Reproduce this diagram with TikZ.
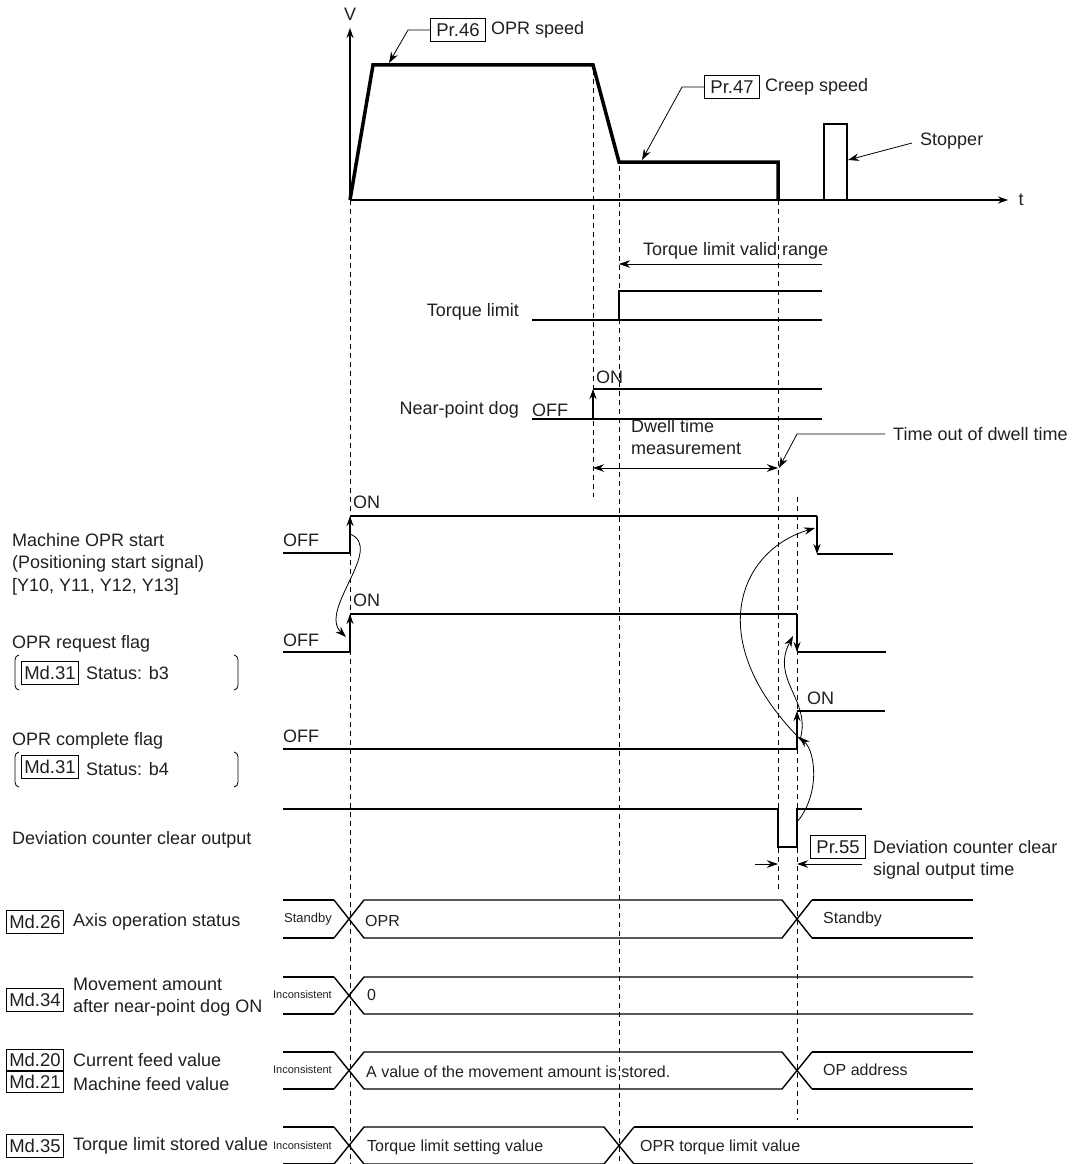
\documentclass[tikz,border=0pt]{standalone}
\usepackage{fontspec}
\setmainfont{Liberation Sans}
\usetikzlibrary{arrows.meta}
\definecolor{ink}{HTML}{231F20}

\begin{document}
\begin{tikzpicture}[x=1pt, y=-1pt,
    lbl/.style={font=\fontsize{18}{22.5}\selectfont, text=ink, inner sep=0pt, align=left},
    prevlbl/.style={font=\fontsize{13}{15}\selectfont, text=ink, inner sep=0pt},
    incons/.style={font=\fontsize{11}{13}\selectfont, text=ink, inner sep=0pt},
    statelbl/.style={font=\fontsize{16}{19}\selectfont, text=ink, inner sep=0pt},
    parbox/.style={draw, line width=1pt, font=\fontsize{18.5}{20}\selectfont, text=ink, inner xsep=2.5pt, inner ysep=1pt, minimum height=23pt, minimum width=55pt},
    guide/.style={dashed, dash pattern=on 5pt off 4pt, line width=0.9pt},
    profile/.style={line width=3.5pt},
    sig/.style={line width=2.2pt},
    lowsig/.style={line width=1.4pt},
    tip/.style={-{Stealth[length=10pt,width=7pt]}},
    leader/.style={line width=0.8pt, -{Stealth[length=11pt,width=7.5pt]}},
]
\useasboundingbox (0,0) rectangle (1077,1164);

% Speed axes
\draw[line width=1.2pt, tip] (350,200) -- (350,28);
\draw[line width=1.2pt, tip] (350,200) -- (1008,200);
\node[lbl] (vlbl) at (350,14) {V};
\node[lbl] (tlbl) at (1021,200) {t};

% Speed profile
\draw[profile] (350,200) -- (373,65) -- (593,65) -- (619,162) -- (778,162) -- (778,200);

% Stopper
\draw[line width=1.3pt] (824,200) -- (824,124) -- (847,124) -- (847,200);
\node[lbl, anchor=west] (stopper) at (920,141) {Stopper};
\coordinate (stoptip) at (848,160);
\draw[leader] ([xshift=-8pt,yshift=-2pt]stopper.west) -- (stoptip);

% Speed parameters
\node[parbox] (pr46) at (458,30) {Pr.46};
\node[lbl, anchor=west] (oprspd) at ([xshift=5pt]pr46.east) {OPR speed};
\coordinate (pr46tip) at (389,63);
\draw[leader] (pr46.west) -- ++(-22,0) -- (pr46tip);
\node[parbox] (pr47) at (732,87) {Pr.47};
\node[lbl, anchor=west] (creep) at ([xshift=5pt]pr47.east) {Creep speed};
\coordinate (pr47tip) at (642,160);
\draw[leader] (pr47.west) -- ++(-22,0) -- (pr47tip);

% Timing guides
\draw[guide] (350,200) -- (350,1164);
\draw[guide] (593,70) -- (593,497);
\draw[guide] (619,166) -- (619,1164);
\draw[guide] (778,200) -- (778,890);
\draw[guide] (797,497) -- (797,1120);

% Torque limit
\node[lbl, anchor=west] (tlrange) at (643,251) {Torque limit valid range};
\coordinate (tlstart) at (619,264);
\draw[leader] (822,264) -- (tlstart);
\node[lbl, anchor=east] (tllbl) at (519,312) {Torque limit};
\draw[lowsig] (532,320) -- (822,320);
\draw[lowsig] (619,320) -- (619,291) -- (822,291);

% Near-point dog
\node[lbl, anchor=east] (doglbl) at (519,410) {Near-point dog};
\node[lbl, anchor=west] (dogoff) at (532,410) {OFF};
\node[lbl, anchor=west] (dogon) at (596,377) {ON};
\draw[lowsig] (532,419) -- (822,419);
\draw[sig, tip] (593,419) -- (593,389);
\draw[sig] (593,389) -- (822,389);

% Dwell time
\node[lbl, anchor=west] (dwell) at (631,437) {Dwell time\\measurement};
\draw[line width=0.8pt, {Stealth[length=11pt,width=7.5pt]}-{Stealth[length=11pt,width=7.5pt]}] (593,468) -- (778,468);
\node[lbl, anchor=west] (timeout) at (893,434) {Time out of dwell time};
\coordinate (dwelltip) at (779,468);
\draw[leader] ([xshift=-8pt]timeout.west) -- (797,434) -- (dwelltip);

% Machine OPR start
\node[lbl, anchor=west] (startlbl) at (12,564) {Machine OPR start\\(Positioning start signal)\\{[Y10, Y11, Y12, Y13]}};
\node[lbl, anchor=west] (startoff) at (283,540) {OFF};
\node[lbl, anchor=west] (starton) at (353,502) {ON};
\draw[sig] (283,553) -- (350,553);
\draw[sig, tip] (350,553) -- (350,516);
\draw[lowsig] (350,516) -- (817,516);
\draw[sig, tip] (817,516) -- (817,554);
\draw[sig] (817,554) -- (893,554);

% OPR request flag
\node[lbl, anchor=west] (reqlbl) at (12,644) {OPR request flag};
\node[parbox] (md31a) at (50,673) {Md.31};
\node[lbl, anchor=west] (b3) at (86,673) {Status: b3};
\draw[line width=0.8pt] (19,655) to[out=180,in=90] (15,660) -- (15,685) to[out=-90,in=180] (19,690);
\draw[line width=0.8pt] (234,655) to[out=0,in=90] (238,660) -- (238,685) to[out=-90,in=0] (234,690);
\node[lbl, anchor=west] (reqoff) at (283,640) {OFF};
\node[lbl, anchor=west] (reqon) at (353,600) {ON};
\draw[sig] (283,652) -- (350,652);
\draw[sig, tip] (350,652) -- (350,614);
\draw[lowsig] (350,614) -- (797,614);
\draw[sig, tip] (797,614) -- (797,652);
\draw[sig] (797,652) -- (886,652);

% OPR complete flag
\node[lbl, anchor=west] (cmplbl) at (12,741) {OPR complete flag};
\node[parbox] (md31b) at (50,767) {Md.31};
\node[lbl, anchor=west] (b4) at (86,769) {Status: b4};
\draw[line width=0.8pt] (19,752) to[out=180,in=90] (15,757) -- (15,782) to[out=-90,in=180] (19,787);
\draw[line width=0.8pt] (234,752) to[out=0,in=90] (238,757) -- (238,782) to[out=-90,in=0] (234,787);
\node[lbl, anchor=west] (cmpoff) at (283,736) {OFF};
\node[lbl, anchor=west] (cmpon) at (807,698) {ON};
\draw[lowsig] (283,749) -- (797,749);
\draw[sig, tip] (797,749) -- (797,711);
\draw[sig] (797,711) -- (885,711);

% Deviation counter clear output
\node[lbl, anchor=west] (devlbl) at (12,840) {Deviation counter clear output};
\draw[lowsig] (283,809) -- (778,809) -- (778,847) -- (797,847) -- (797,809) -- (862,809);
\node[parbox] (pr55) at (838,847) {Pr.55};
\node[lbl, anchor=west] (devtxt) at (873,860) {Deviation counter clear\\signal output time};
\coordinate (clrL) at (778,864);
\coordinate (clrR) at (797,864);
\draw[leader] (755,864) -- (clrL);
\draw[leader] (862,864) -- (clrR);

% Signal interlocks
\draw[leader] (350,534) .. controls (385,548) and (318,610) .. (346,637);
\draw[leader] (797,822) .. controls (820,795) and (816,752) .. (799,737);
\draw[leader] (800,740) .. controls (812,700) and (770,680) .. (793,636);
\draw[leader] (803,742) .. controls (700,640) and (740,550) .. (815,528);

% Md.26 Axis operation status
\node[parbox] (md26) at (35,922) {Md.26};
\node[lbl, anchor=west] (md26txt) at (73,922) {Axis operation status};
\draw[lowsig] (334,900) -- (364,938) -- (782,938) -- (812,900);
\draw[lowsig] (334,938) -- (364,900) -- (782,900) -- (812,938);
\draw[sig] (283,900) -- (334,900) (283,938) -- (334,938) (812,900) -- (973,900) (812,938) -- (973,938);
\node[prevlbl, anchor=east] (sb1) at (332,919) {Standby};
\node[statelbl, anchor=west] (opr) at (365,921) {OPR};
\node[statelbl, anchor=west] (sb2) at (823,919) {Standby};

% Md.34 Movement amount
\node[parbox] (md34) at (35,1000) {Md.34};
\node[lbl, anchor=west] (md34txt) at (73,997) {Movement amount\\after near-point dog ON};
\draw[lowsig] (334,977) -- (364,1014) -- (973,1014);
\draw[lowsig] (334,1014) -- (364,977) -- (973,977);
\draw[sig] (283,977) -- (334,977) (283,1014) -- (334,1014);
\node[incons, anchor=east] (inc1) at (332,995) {Inconsistent};
\node[statelbl, anchor=west] (zero) at (367,995) {0};

% Md.20 / Md.21 feed values
\node[parbox, minimum height=21pt] (md20) at (35,1060) {Md.20};
\node[parbox, minimum height=21pt] (md21) at (35,1082) {Md.21};
\node[lbl, anchor=west] (md20txt) at (73,1060) {Current feed value};
\node[lbl, anchor=west] (md21txt) at (73,1084) {Machine feed value};
\draw[lowsig] (334,1052) -- (364,1089) -- (782,1089) -- (812,1052);
\draw[lowsig] (334,1089) -- (364,1052) -- (782,1052) -- (812,1089);
\draw[sig] (283,1052) -- (334,1052) (283,1089) -- (334,1089) (812,1052) -- (973,1052) (812,1089) -- (973,1089);
\node[incons, anchor=east] (inc2) at (332,1070) {Inconsistent};
\node[statelbl, anchor=west] (moved) at (366,1072) {A value of the movement amount is stored.};
\node[statelbl, anchor=west] (opaddr) at (823,1070) {OP address};

% Md.35 Torque limit stored value
\node[parbox] (md35) at (35,1146) {Md.35};
\node[lbl, anchor=west] (md35txt) at (73,1146) {Torque limit stored value};
\draw[lowsig] (334,1127) -- (364,1164) -- (604,1164) -- (634,1127);
\draw[lowsig] (334,1164) -- (364,1127) -- (604,1127) -- (634,1164);
\draw[sig] (283,1127) -- (334,1127) (283,1164) -- (334,1164) (634,1127) -- (973,1127) (634,1164) -- (973,1164);
\node[incons, anchor=east] (inc3) at (332,1146) {Inconsistent};
\node[statelbl, anchor=west] (tlset) at (367,1147) {Torque limit setting value};
\node[statelbl, anchor=west] (tlopr) at (640,1147) {OPR torque limit value};

\end{tikzpicture}
\end{document}
